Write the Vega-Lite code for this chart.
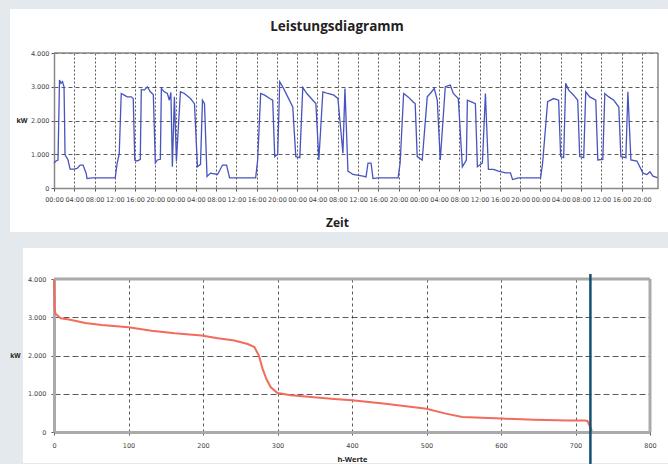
{
  "$schema": "https://vega.github.io/schema/vega-lite/v6.json",
  "background": "#e3e9ed",
  "padding": {"left": -29, "top": -25, "right": 0, "bottom": 0},
  "spacing": 91,
  "bounds": "flush",
  "config": {
    "font": "Open Sans",
    "axis": {
      "labelFont": "DejaVu Sans",
      "labelFontSize": 6.5,
      "labelColor": "#444",
      "tickColor": "#555",
      "tickSize": 3,
      "gridColor": "#333",
      "gridWidth": 0.9,
      "gridOpacity": 0.9,
      "titleFont": "Open Sans",
      "titleFontWeight": "bold",
      "titleColor": "#222",
      "labelOverlap": false,
      "tickCount": 40
    }
  },
  "vconcat": [
    {
      "width": 604,
      "height": 135,
      "view": {"fill": "white", "stroke": "white", "strokeWidth": 88},
      "title": {"text": "Leistungsdiagramm", "fontSize": 13.5, "font": "Open Sans", "fontWeight": "bold", "color": "#222", "anchor": "middle", "frame": "group", "dx": -19, "offset": 17},
      "layer": [
        {
          "data": {"values": [
            {"h":0,"kW":740},{"h":0.4,"kW":800},{"h":0.79,"kW":830},{"h":1.09,"kW":3200},{"h":1.39,"kW":3100},{"h":1.68,"kW":3150},{"h":1.98,"kW":3000},{"h":2.18,"kW":980},{"h":2.77,"kW":830},{"h":3.17,"kW":560},{"h":3.96,"kW":560},{"h":4.55,"kW":580},{"h":5.15,"kW":680},{"h":5.74,"kW":680},{"h":6.34,"kW":440},{"h":6.53,"kW":280},{"h":7.52,"kW":300},{"h":8.51,"kW":300},{"h":10.49,"kW":300},{"h":12.08,"kW":300},
            {"h":12.47,"kW":740},{"h":12.87,"kW":1000},{"h":13.27,"kW":2800},{"h":13.86,"kW":2750},{"h":14.45,"kW":2700},{"h":15.25,"kW":2700},{"h":15.64,"kW":2650},{"h":15.94,"kW":830},{"h":16.43,"kW":800},{"h":17.03,"kW":850},{"h":17.23,"kW":2920},{"h":17.82,"kW":2900},{"h":18.41,"kW":3000},{"h":19.01,"kW":2850},{"h":19.6,"kW":2770},{"h":20.0,"kW":740},{"h":20.39,"kW":830},{"h":20.99,"kW":850},{"h":21.19,"kW":2950},{"h":21.78,"kW":2850},{"h":22.37,"kW":2800},{"h":22.77,"kW":2600},{"h":23.07,"kW":2830},{"h":23.36,"kW":630},{"h":23.76,"kW":2700},{"h":24.16,"kW":800},{"h":24.95,"kW":2850},{"h":25.74,"kW":2800},{"h":26.93,"kW":2650},{"h":27.72,"kW":2500},{"h":28.31,"kW":630},{"h":28.91,"kW":700},{"h":29.3,"kW":2600},{"h":29.7,"kW":2500},{"h":30.2,"kW":340},{"h":30.89,"kW":440},{"h":32.27,"kW":400},{"h":33.26,"kW":680},{"h":34.06,"kW":680},{"h":34.65,"kW":300},{"h":36.23,"kW":300},{"h":38.21,"kW":300},{"h":39.8,"kW":300},
            {"h":40.19,"kW":830},{"h":40.79,"kW":2800},{"h":41.58,"kW":2750},{"h":42.57,"kW":2650},{"h":43.16,"kW":2600},{"h":43.56,"kW":930},{"h":44.15,"kW":1000},{"h":44.55,"kW":3150},{"h":45.14,"kW":3000},{"h":46.13,"kW":2700},{"h":47.12,"kW":2400},{"h":47.72,"kW":930},{"h":48.51,"kW":900},{"h":49.1,"kW":2980},{"h":49.9,"kW":2800},{"h":51.08,"kW":2600},{"h":51.68,"kW":2500},{"h":52.27,"kW":830},{"h":53.06,"kW":2850},{"h":54.05,"kW":2800},{"h":55.24,"kW":2750},{"h":56.03,"kW":2650},{"h":57.02,"kW":1030},{"h":57.42,"kW":2950},{"h":58.01,"kW":500},{"h":59.0,"kW":400},{"h":60.98,"kW":350},{"h":61.58,"kW":330},{"h":61.97,"kW":740},{"h":62.57,"kW":740},{"h":62.96,"kW":280},{"h":63.95,"kW":300},{"h":65.93,"kW":300},{"h":67.91,"kW":300},
            {"h":68.31,"kW":740},{"h":69.0,"kW":2800},{"h":69.89,"kW":2700},{"h":70.88,"kW":2550},{"h":71.28,"kW":2500},{"h":71.68,"kW":930},{"h":72.67,"kW":830},{"h":73.66,"kW":2700},{"h":74.25,"kW":2800},{"h":75.04,"kW":2950},{"h":75.64,"kW":2600},{"h":76.23,"kW":830},{"h":77.22,"kW":3000},{"h":78.21,"kW":3050},{"h":78.8,"kW":2800},{"h":79.79,"kW":2650},{"h":80.59,"kW":630},{"h":81.38,"kW":830},{"h":81.58,"kW":2600},{"h":82.37,"kW":2550},{"h":83.16,"kW":2500},{"h":83.56,"kW":630},{"h":84.55,"kW":740},{"h":85.14,"kW":2800},{"h":85.73,"kW":550},{"h":86.72,"kW":550},{"h":87.71,"kW":500},{"h":89.1,"kW":450},{"h":90.09,"kW":450},{"h":90.49,"kW":250},{"h":91.67,"kW":300},{"h":93.65,"kW":300},{"h":96.03,"kW":300},
            {"h":96.43,"kW":740},{"h":97.42,"kW":2560},{"h":98.6,"kW":2650},{"h":99.59,"kW":2600},{"h":99.99,"kW":930},{"h":100.58,"kW":900},{"h":100.98,"kW":3100},{"h":101.57,"kW":2900},{"h":102.56,"kW":2750},{"h":103.36,"kW":2600},{"h":103.75,"kW":930},{"h":104.54,"kW":900},{"h":104.94,"kW":2850},{"h":105.73,"kW":2700},{"h":106.92,"kW":2600},{"h":107.32,"kW":830},{"h":108.31,"kW":850},{"h":108.7,"kW":2800},{"h":109.49,"kW":2700},{"h":110.48,"kW":2600},{"h":111.47,"kW":2400},{"h":111.87,"kW":930},{"h":112.86,"kW":900},{"h":113.26,"kW":2850},{"h":113.85,"kW":830},{"h":115.04,"kW":800},{"h":116.23,"kW":440},{"h":117.02,"kW":400},{"h":117.61,"kW":480},{"h":118.21,"kW":350},{"h":119.2,"kW":300}
          ]},
          "mark": {"type": "line", "color": "#4654c0", "strokeWidth": 1.3},
          "encoding": {
            "x": {
              "field": "h", "type": "quantitative",
              "scale": {"domain": [0, 119.2], "nice": false, "zero": false},
              "axis": {
                "values": [0,4,8,12,16,20,24,28,32,36,40,44,48,52,56,60,64,68,72,76,80,84,88,92,96,100,104,108,112,116],
                "labelExpr": "(datum.value % 24 < 10 ? '0' : '') + (datum.value % 24) + ':00'",
                "labelFlush": false,
                "grid": true, "gridDash": [2, 2],
                "labelPadding": 5,
                "domainColor": "#888", "domainWidth": 1.5,
                "title": "Zeit", "titleFontSize": 12, "titleX": 283, "titleY": 38, "titleBaseline": "alphabetic", "titleAlign": "center"
              }
            },
            "y": {
              "field": "kW", "type": "quantitative",
              "scale": {"domain": [0, 4000], "nice": false},
              "axis": {
                "values": [0, 1000, 2000, 3000, 4000],
                "labelExpr": "replace(format(datum.value, ','), ',', '.')",
                "grid": true, "gridDash": [4, 3],
                "labelPadding": 2,
                "domainColor": "#888", "domainWidth": 1.5,
                "title": "kW", "titleFontSize": 7, "titleAngle": 0, "titleAlign": "right", "titleBaseline": "middle", "titleX": -27, "titleY": 67.5
              }
            }
          }
        },
        {
          "data": {"values": [{}]},
          "mark": {"type": "rule", "color": "#888", "strokeWidth": 1.5},
          "encoding": {"y": {"datum": 4000, "type": "quantitative"}}
        },
        {
          "data": {"values": [{}]},
          "mark": {"type": "rule", "color": "#888", "strokeWidth": 1.5},
          "encoding": {"x": {"datum": 119.2, "type": "quantitative"}}
        }
      ]
    },
    {
      "width": 596,
      "height": 153,
      "view": {"fill": "white", "stroke": "white", "strokeWidth": 62},
      "layer": [
        {
          "data": {"values": [
            {"h":0,"kW":4000},{"h":1,"kW":3220},{"h":2,"kW":3090},{"h":9,"kW":2975},{"h":20,"kW":2940},{"h":42,"kW":2850},{"h":64,"kW":2800},{"h":100,"kW":2740},{"h":131,"kW":2650},{"h":162,"kW":2580},{"h":198,"kW":2520},{"h":220,"kW":2450},{"h":242,"kW":2390},{"h":260,"kW":2300},{"h":269,"kW":2220},{"h":275,"kW":2000},{"h":280,"kW":1650},{"h":285,"kW":1390},{"h":291,"kW":1170},{"h":300,"kW":1020},{"h":318,"kW":960},{"h":345,"kW":915},{"h":376,"kW":865},{"h":400,"kW":830},{"h":445,"kW":740},{"h":500,"kW":610},{"h":526,"kW":480},{"h":548,"kW":390},{"h":601,"kW":350},{"h":645,"kW":320},{"h":690,"kW":300},{"h":712,"kW":300},{"h":716,"kW":290},{"h":720,"kW":120},{"h":722,"kW":30}
          ]},
          "mark": {"type": "line", "color": "#f26b5b", "strokeWidth": 2},
          "encoding": {
            "x": {
              "field": "h", "type": "quantitative",
              "scale": {"domain": [0, 800], "nice": false},
              "axis": {
                "values": [0,100,200,300,400,500,600,700,800],
                "labelFlush": false,
                "grid": true, "gridDash": [3, 3],
                "labelPadding": 7,
                "domainColor": "#aaa", "domainWidth": 3,
                "title": "h-Werte", "titleFontSize": 7.5, "titleX": 298, "titleY": 29, "titleBaseline": "alphabetic", "titleAlign": "center"
              }
            },
            "y": {
              "field": "kW", "type": "quantitative",
              "scale": {"domain": [0, 4000], "nice": false},
              "axis": {
                "values": [0, 1000, 2000, 3000, 4000],
                "labelExpr": "replace(format(datum.value, ','), ',', '.')",
                "grid": true, "gridDash": [6, 3],
                "labelPadding": 5,
                "domainColor": "#aaa", "domainWidth": 3,
                "title": "kW", "titleFontSize": 6.5, "titleAngle": 0, "titleAlign": "right", "titleBaseline": "middle", "titleX": -34, "titleY": 76.5
              }
            }
          }
        },
        {
          "data": {"values": [{}]},
          "mark": {"type": "rule", "color": "#aaa", "strokeWidth": 3},
          "encoding": {"y": {"datum": 4000, "type": "quantitative"}}
        },
        {
          "data": {"values": [{}]},
          "mark": {"type": "rule", "color": "#aaa", "strokeWidth": 3},
          "encoding": {"x": {"datum": 800, "type": "quantitative"}}
        },
        {
          "data": {"values": [{}]},
          "mark": {"type": "rule", "color": "#13506f", "strokeWidth": 2.5},
          "encoding": {
            "x": {"datum": 720, "type": "quantitative"},
            "y": {"datum": 4130, "type": "quantitative"},
            "y2": {"datum": -835}
          }
        }
      ]
    }
  ]
}
